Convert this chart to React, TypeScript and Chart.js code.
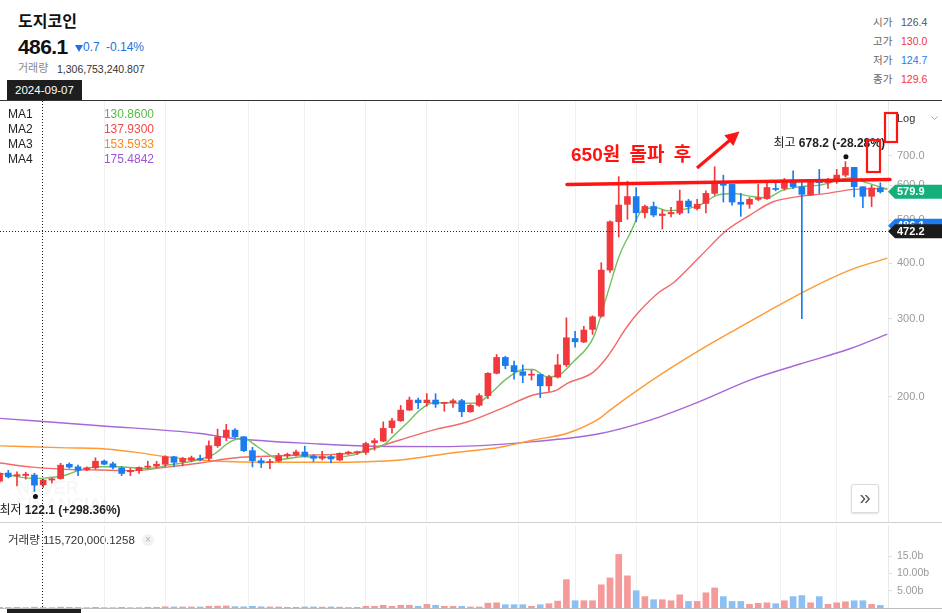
import React, { useEffect, useRef } from 'react';
import { Chart, registerables } from 'chart.js';

Chart.register(...registerables);

const FONT = '"Liberation Sans", "Noto Sans CJK KR", Arial, sans-serif';

// ---------- data (daily candles, index 0..101) ----------
const OPEN = [
  128.8, 134.4, 132.4, 132.7, 133.0, 126.4, 129.6, 130.6, 140.6, 138.8,
  136.7, 138.1, 143.0, 141.0, 138.0, 135.3, 136.1, 138.6, 139.3, 140.7,
  146.3, 142.5, 143.6, 145.0, 145.0, 154.9, 162.0, 168.0, 162.3, 151.0,
  143.3, 141.9, 143.0, 147.0, 147.6, 149.9, 146.9, 145.1, 146.4, 143.8,
  149.0, 149.4, 149.6, 157.3, 158.7, 170.2, 176.3, 186.4, 196.4, 193.7,
  196.4, 193.0, 193.7, 195.8, 184.8, 191.1, 201.0, 225.7, 245.1, 234.9,
  227.6, 223.5, 224.3, 211.5, 221.3, 235.8, 270.5, 265.6, 283.6, 303.7,
  386.0, 496.2, 543.1, 565.6, 519.9, 537.3, 512.5, 517.0, 519.2, 552.6,
  531.5, 545.8, 575.0, 604.0, 602.6, 549.0, 543.4, 557.6, 559.7, 590.0,
  590.0, 616.2, 595.3, 570.6, 610.9, 607.7, 611.0, 632.3, 658.3, 595.3,
  566.4, 591.5,
];
const HIGH = [
  135.0, 136.3, 135.3, 135.0, 134.2, 130.0, 131.0, 141.4, 141.7, 140.0,
  138.8, 145.5, 143.8, 142.3, 138.8, 137.7, 138.8, 142.9, 142.9, 147.1,
  146.5, 145.8, 146.8, 147.5, 158.8, 168.9, 173.2, 169.4, 162.5, 153.6,
  145.2, 144.4, 148.9, 149.1, 151.4, 154.5, 147.8, 150.5, 147.4, 149.3,
  150.6, 150.6, 157.8, 160.8, 175.4, 178.5, 191.0, 199.5, 198.4, 203.0,
  203.0, 194.3, 197.3, 197.2, 192.0, 203.0, 226.6, 248.9, 246.5, 240.5,
  235.8, 229.5, 224.8, 223.3, 248.9, 301.2, 280.9, 288.3, 304.3, 401.2,
  498.6, 627.4, 612.7, 593.0, 541.2, 549.9, 527.3, 534.7, 584.9, 557.5,
  557.5, 582.9, 660.3, 632.3, 602.6, 575.4, 562.7, 602.6, 606.8, 609.0,
  621.6, 646.5, 609.0, 616.2, 651.4, 621.6, 651.4, 678.2, 658.3, 595.3,
  599.8, 607.7,
];
const LOW = [
  128.0, 131.0, 125.7, 130.2, 122.1, 124.7, 127.7, 130.2, 137.7, 132.6,
  136.1, 137.0, 140.3, 137.3, 132.6, 132.6, 134.2, 137.7, 138.1, 138.8,
  138.8, 139.5, 142.5, 143.2, 143.6, 153.6, 159.0, 161.6, 150.2, 138.8,
  138.3, 137.5, 142.5, 145.2, 146.7, 146.3, 142.7, 143.8, 141.6, 143.3,
  148.0, 148.0, 148.0, 151.4, 158.2, 165.3, 175.8, 186.1, 187.7, 190.3,
  189.0, 185.3, 189.0, 180.2, 184.3, 190.0, 197.9, 225.0, 231.1, 218.8,
  214.9, 217.9, 198.8, 205.3, 220.2, 233.8, 258.5, 264.6, 276.3, 302.1,
  381.4, 458.4, 502.5, 496.2, 506.3, 509.0, 477.8, 509.0, 514.8, 519.2,
  527.3, 519.2, 569.7, 549.7, 541.2, 510.4, 532.1, 553.7, 557.6, 582.5,
  584.9, 589.0, 300.0, 568.5, 575.0, 590.0, 605.7, 626.8, 564.3, 533.9,
  536.8, 576.0,
];
const CLOSE = [
  134.2, 131.8, 133.3, 133.6, 126.2, 129.6, 130.4, 140.0, 138.6, 136.3,
  138.1, 142.9, 140.7, 138.6, 134.1, 136.3, 138.3, 139.3, 140.7, 146.3,
  142.1, 145.0, 145.5, 144.0, 154.9, 162.2, 168.0, 162.3, 151.0, 143.3,
  141.6, 142.6, 146.9, 148.0, 149.9, 146.7, 145.1, 146.4, 144.6, 148.9,
  149.8, 149.9, 156.7, 159.0, 169.5, 176.3, 186.4, 196.4, 193.7, 196.4,
  192.3, 193.6, 195.7, 184.8, 191.1, 201.0, 225.7, 245.1, 234.9, 227.6,
  223.3, 224.7, 211.5, 221.3, 235.8, 271.5, 265.9, 282.6, 302.7, 386.0,
  496.2, 541.2, 565.6, 519.9, 537.3, 513.8, 516.5, 520.7, 552.6, 536.8,
  543.6, 575.0, 608.3, 599.8, 549.7, 543.4, 557.6, 561.7, 592.9, 587.0,
  616.2, 595.3, 572.3, 610.9, 607.7, 613.1, 632.3, 658.3, 595.3, 566.4,
  591.5, 579.9,
];
// volume in billions
const VOLUME_B = [
  0.2, 0.15, 0.2, 0.1, 0.25, 0.15, 0.1, 0.25, 0.2, 0.15,
  0.1, 0.2, 0.1, 0.1, 0.2, 0.1, 0.1, 0.2, 0.2, 0.35,
  0.3, 0.3, 0.3, 0.3, 0.5, 0.55, 0.6, 0.4, 0.35, 0.5,
  0.35, 0.3, 0.3, 0.2, 0.2, 0.3, 0.3, 0.25, 0.3, 0.25,
  0.15, 0.2, 0.5, 0.5, 0.8, 0.5, 0.8, 0.8, 0.5, 1.05,
  0.8, 0.5, 0.5, 0.5, 0.3, 0.3, 1.4, 1.5, 0.95, 0.95,
  0.95, 0.5, 0.95, 1.25, 2.0, 8.2, 2.1, 2.1, 2.1, 6.7,
  8.7, 15.5, 9.3, 5.0, 3.3, 2.4, 2.4, 2.1, 3.8, 1.9,
  1.9, 4.4, 5.8, 3.3, 1.9, 1.9, 1.05, 1.35, 1.5, 1.25,
  2.1, 3.3, 3.6, 1.5, 3.3, 1.05, 1.5, 1.8, 2.1, 2.1,
  1.05, 0.75,
];

// moving averages: [candle index, value]
const MA1_PTS = [
  [0.05, 134.2], [3.8, 130.7], [5, 130.86], [7.3, 132.5], [9.2, 136.5], [11.5, 138.9], [13.8, 138.9],
  [16.1, 137.7], [18, 138.1], [19.2, 140.0], [20.7, 141.3], [23, 144.4], [24.5, 147.9], [26.4, 157.9],
  [27.9, 161.2], [29.5, 154.5], [31, 147.5], [32.2, 144.3], [34.8, 146.3], [37.9, 145.8], [40.5, 147.5],
  [42.5, 151.9], [44, 155.4], [45.1, 162.4], [46.7, 174.0], [48.2, 186.4], [49.7, 193.7], [51.6, 193.7],
  [52.8, 193.1], [54.7, 193.1], [56.2, 202.6], [58.2, 219.8], [60.1, 230.3], [61.2, 230.3], [62.7, 221.7],
  [63.9, 222.5], [65.8, 239.7], [68.1, 272.1], [69.6, 336.0], [71.1, 417.3], [72.3, 467.1], [73.8, 529.2],
  [75.35, 533.8], [76.5, 525.3], [78.4, 529.2], [80.3, 541.2], [82.3, 569.9], [84.1, 574.9], [86, 567.0],
  [88, 562.1], [89.8, 584.9], [91.8, 595.1], [94.1, 600.4], [96, 614.0], [97.5, 623.2], [99.5, 607.2],
  [101.8, 587.0],
];
const MA2_PTS = [
  [0.05, 141.6], [3.8, 138.6], [7.7, 137.0], [11.5, 136.5], [15.3, 136.1], [19.2, 138.6], [23, 141.6],
  [26.8, 145.3], [29, 146.3], [34.4, 147.5], [40.5, 149.0], [42.1, 151.4], [45.9, 159.6], [49.7, 168.0],
  [53.6, 175.2], [57.4, 187.4], [61.2, 201.6], [63.9, 206.9], [65.1, 214.2], [68.05, 226.8], [69.7, 246.0],
  [71.95, 287.5], [73.4, 311.9], [75.7, 344.8], [77.2, 360.3], [80.3, 413.6], [83.4, 475.2], [86.05, 513.8],
  [88.7, 550.5], [91.4, 564.8], [94.9, 575.0], [97.9, 587.0], [101.8, 590.0],
];
const MA3_PTS = [
  [0.05, 154.8], [7.7, 153.2], [11.5, 152.7], [15.3, 150.0], [19.2, 146.2], [23, 143.8], [26.8, 142.5],
  [36.7, 142.1], [42.1, 142.5], [45.9, 143.8], [51.6, 149.0], [57.4, 153.7], [61.2, 159.6], [65.1, 165.3],
  [68.9, 179.1], [70, 186.4], [75.7, 223.6], [80.3, 254.7], [84.3, 282.6], [92.6, 347.9], [97.5, 386.0],
  [101.8, 410.9],
];
const MA4_PTS = [
  [0.05, 178.6], [11.5, 171.9], [23, 165.1], [26.4, 161.3], [36.7, 156.3], [42.1, 154.7], [51.6, 154.2],
  [61.2, 158.2], [68.9, 165.1], [74.6, 177.0], [80.3, 195.0], [86.05, 217.9], [91.8, 236.9], [97.5, 256.4],
  [101.8, 276.8],
];

const MA_NAMES = ['MA1', 'MA2', 'MA3', 'MA4'];
const MA_VALUES = ['130.8600', '137.9300', '153.5933', '175.4842'];
const MA_TEXT_COLORS = ['#5bb947', '#f04a4a', '#f7891f', '#9b57d3'];
const MA_LINE_COLORS = ['#72c25e', '#f26a6a', '#ff9a33', '#a568d8'];

const PRICE_TICKS = [200, 300, 400, 500, 600, 700];
const VOL_TICKS = [5, 10, 15];
const VOL_TICK_LABELS = ['5.00b', '10.00b', '15.0b'];
const GRID_IDX = [12, 19, 28.5, 35, 42, 49, 59.5, 66, 73, 80, 89.5, 96];

const OHLC_LABELS = ['시가', '고가', '저가', '종가'];
const OHLC_VALUES = ['126.4', '130.0', '124.7', '129.6'];
const OHLC_COLORS = ['#555555', '#f0383d', '#1c7ced', '#f0383d'];

const PRICE_TAGS = [
  { value: 486.1, text: '486.1', color: '#1c7ced' },
  { value: 579.9, text: '579.9', color: '#13b07a' },
  { value: 472.2, text: '472.2', color: '#1b1b1b' },
];
const CROSS_INDEX = 5;
const CROSS_PRICE = 472.2;
const HIGH_INDEX = 97;
const HIGH_PCT = '-28.28%';
const LOW_INDEX = 4;
const LOW_PCT = '+298.36%';

const UP = '#f0383d';
const DOWN = '#1c7ced';
const VUP = '#f5999b';
const VDOWN = '#8cc0f4';

// scale ranges
const X_MIN = 0.05;
const X_MAX = 101.88;
const Y_MIN = 104.2;
const Y_MAX = 929.5;
const VOL_MAX = 24;
const AXIS_W = 54;

const IDX = OPEN.map((_, i) => i);
const isUp = (i: number) => CLOSE[i] >= OPEN[i];

function zeroPad(s: any) {
  s.paddingTop = 0;
  s.paddingBottom = 0;
  s.paddingLeft = 0;
  s.paddingRight = 0;
}

function xScaleCfg(): any {
  return {
    type: 'linear',
    min: X_MIN,
    max: X_MAX,
    offset: false,
    bounds: 'data',
    grid: { display: true, color: '#f0f0f0', lineWidth: 1, drawTicks: false, offset: false },
    border: { display: false },
    ticks: { display: false },
    afterBuildTicks: (s: any) => {
      s.ticks = GRID_IDX.map((v) => ({ value: v }));
    },
    afterFit: (s: any) => {
      s.height = 0;
      zeroPad(s);
    },
  };
}

function drawTag(ctx: CanvasRenderingContext2D, left: number, right: number, y: number, color: string, text: string) {
  const h = 14;
  const tip = 7;
  ctx.fillStyle = color;
  ctx.beginPath();
  ctx.moveTo(left, y);
  ctx.lineTo(left + tip, y - h / 2);
  ctx.lineTo(right, y - h / 2);
  ctx.lineTo(right, y + h / 2);
  ctx.lineTo(left + tip, y + h / 2);
  ctx.closePath();
  ctx.fill();
  ctx.fillStyle = '#ffffff';
  ctx.font = `bold 11px ${FONT}`;
  ctx.textAlign = 'left';
  ctx.textBaseline = 'middle';
  ctx.fillText(text, left + 9, y + 0.5);
}

const pricePlugin = {
  id: 'priceOverlay',
  afterDatasetsDraw(chart: any) {
    const { ctx, chartArea, scales } = chart;
    const x = scales.x;
    const y = scales.y;
    ctx.save();
    // crosshair
    ctx.strokeStyle = '#222';
    ctx.lineWidth = 1;
    ctx.setLineDash([1, 2]);
    const cx = Math.round(x.getPixelForValue(CROSS_INDEX)) - 0.5;
    ctx.beginPath();
    ctx.moveTo(cx, chartArea.top);
    ctx.lineTo(cx, chartArea.bottom);
    ctx.stroke();
    const cy = Math.round(y.getPixelForValue(CROSS_PRICE)) + 0.5;
    ctx.beginPath();
    ctx.moveTo(chartArea.left, cy);
    ctx.lineTo(chartArea.right, cy);
    ctx.stroke();
    ctx.setLineDash([]);

    // highest annotation
    const hx = x.getPixelForValue(HIGH_INDEX);
    const hy = y.getPixelForValue(HIGH[HIGH_INDEX]);
    ctx.fillStyle = '#111';
    ctx.beginPath();
    ctx.arc(hx + 0.5, hy - 5, 2.5, 0, Math.PI * 2);
    ctx.fill();
    ctx.textBaseline = 'middle';
    ctx.textAlign = 'left';
    ctx.font = `12px ${FONT}`;
    const t1 = '최고 ';
    const w1 = ctx.measureText(t1).width;
    const sx = hx - 72;
    ctx.fillStyle = '#222';
    ctx.fillText(t1, sx, hy - 18);
    ctx.font = `bold 12px ${FONT}`;
    ctx.fillText(`${HIGH[HIGH_INDEX].toFixed(1)} (${HIGH_PCT})`, sx + w1, hy - 18);

    // lowest annotation
    const lx = x.getPixelForValue(LOW_INDEX);
    const ly = y.getPixelForValue(LOW[LOW_INDEX]);
    ctx.fillStyle = '#111';
    ctx.beginPath();
    ctx.arc(lx + 1, ly + 5, 2.5, 0, Math.PI * 2);
    ctx.fill();
    ctx.font = `12px ${FONT}`;
    const t2 = '최저 ';
    const w2 = ctx.measureText(t2).width;
    const lsx = lx - 35;
    ctx.fillStyle = '#222';
    ctx.fillText(t2, lsx, ly + 19);
    ctx.font = `bold 12px ${FONT}`;
    ctx.fillText(`${LOW[LOW_INDEX].toFixed(1)} (${LOW_PCT})`, lsx + w2, ly + 19);
    ctx.restore();
  },
  afterDraw(chart: any) {
    const { ctx, chartArea, scales } = chart;
    const y = scales.y;
    ctx.save();
    PRICE_TAGS.forEach((t) => {
      drawTag(ctx, chartArea.right, chart.width, y.getPixelForValue(t.value), t.color, t.text);
    });
    ctx.restore();
  },
};

const volPlugin = {
  id: 'volOverlay',
  afterDatasetsDraw(chart: any) {
    const { ctx, scales } = chart;
    ctx.save();
    ctx.strokeStyle = '#222';
    ctx.lineWidth = 1;
    ctx.setLineDash([1, 2]);
    const cx = Math.round(scales.x.getPixelForValue(CROSS_INDEX)) - 0.5;
    ctx.beginPath();
    ctx.moveTo(cx, 0);
    ctx.lineTo(cx, chart.height);
    ctx.stroke();
    ctx.restore();
  },
};

function maDataset(pts: number[][], color: string): any {
  return {
    type: 'line',
    data: pts.map((p) => ({ x: p[0], y: p[1] })),
    borderColor: color,
    borderWidth: 1.4,
    pointRadius: 0,
    fill: false,
    cubicInterpolationMode: 'monotone',
  };
}

export default function App() {
  const priceRef = useRef<HTMLCanvasElement>(null);
  const volRef = useRef<HTMLCanvasElement>(null);

  useEffect(() => {
    const priceChart = new Chart(priceRef.current as HTMLCanvasElement, {
      type: 'bar',
      data: {
        datasets: [
          {
            type: 'bar',
            data: IDX.map((i) => ({ x: i, y: [OPEN[i], CLOSE[i]] })),
            backgroundColor: IDX.map((i) => (isUp(i) ? UP : DOWN)),
            barThickness: 6,
            grouped: false,
            minBarLength: 1,
            borderWidth: 0,
          } as any,
          {
            type: 'bar',
            data: IDX.map((i) => ({ x: i, y: [LOW[i], HIGH[i]] })),
            backgroundColor: IDX.map((i) => (isUp(i) ? UP : DOWN)),
            barThickness: 1,
            grouped: false,
            borderWidth: 0,
          } as any,
          maDataset(MA1_PTS, MA_LINE_COLORS[0]),
          maDataset(MA2_PTS, MA_LINE_COLORS[1]),
          maDataset(MA3_PTS, MA_LINE_COLORS[2]),
          maDataset(MA4_PTS, MA_LINE_COLORS[3]),
        ],
      },
      options: {
        animation: false,
        responsive: false,
        maintainAspectRatio: false,
        events: [],
        layout: { padding: 0 },
        plugins: { legend: { display: false }, tooltip: { enabled: false } },
        scales: {
          x: xScaleCfg(),
          y: {
            type: 'logarithmic',
            position: 'right',
            min: Y_MIN,
            max: Y_MAX,
            bounds: 'data',
            afterBuildTicks: (s: any) => {
              s.ticks = PRICE_TICKS.map((v) => ({ value: v }));
            },
            afterFit: (s: any) => {
              s.width = AXIS_W;
              zeroPad(s);
            },
            ticks: {
              autoSkip: false,
              padding: 5,
              color: '#9a9a9a',
              font: { family: FONT, size: 11 },
              callback: (v: any) => Number(v).toFixed(1),
            },
            grid: { drawOnChartArea: false, drawTicks: true, tickLength: 4, color: '#dddddd' },
            border: { display: true, color: '#e8e8e8' },
          } as any,
        },
      },
      plugins: [pricePlugin],
    } as any);

    const volChart = new Chart(volRef.current as HTMLCanvasElement, {
      type: 'bar',
      data: {
        datasets: [
          {
            data: IDX.map((i) => ({ x: i, y: VOLUME_B[i] })),
            backgroundColor: IDX.map((i) => (isUp(i) ? VUP : VDOWN)),
            barThickness: 6,
            grouped: false,
            borderWidth: 0,
          } as any,
        ],
      },
      options: {
        animation: false,
        responsive: false,
        maintainAspectRatio: false,
        events: [],
        layout: { padding: 0 },
        plugins: { legend: { display: false }, tooltip: { enabled: false } },
        scales: {
          x: xScaleCfg(),
          y: {
            type: 'linear',
            position: 'right',
            min: 0,
            max: VOL_MAX,
            bounds: 'data',
            afterBuildTicks: (s: any) => {
              s.ticks = VOL_TICKS.map((v) => ({ value: v }));
            },
            afterFit: (s: any) => {
              s.width = AXIS_W;
              zeroPad(s);
            },
            ticks: {
              autoSkip: false,
              padding: 5,
              color: '#9a9a9a',
              font: { family: FONT, size: 10.5 },
              callback: (v: any) => VOL_TICK_LABELS[VOL_TICKS.indexOf(Number(v))],
            },
            grid: { drawOnChartArea: false, drawTicks: true, tickLength: 4, color: '#dddddd' },
            border: { display: true, color: '#e8e8e8' },
          } as any,
        },
      },
      plugins: [volPlugin],
    } as any);

    return () => {
      priceChart.destroy();
      volChart.destroy();
    };
  }, []);

  const abs = (s: React.CSSProperties): React.CSSProperties => ({ position: 'absolute', whiteSpace: 'nowrap', ...s });

  return (
    <div
      style={{
        position: 'fixed',
        left: 0,
        top: 0,
        width: 942,
        height: 613,
        overflow: 'hidden',
        background: '#ffffff',
        fontFamily: FONT,
        color: '#222',
      }}
    >
      {/* header */}
      <div style={abs({ left: 18, top: 12, fontSize: 16, fontWeight: 700, lineHeight: '20px', color: '#111' })}>도지코인</div>
      <div style={abs({ left: 18, top: 35, fontSize: 21, fontWeight: 700, lineHeight: '24px', letterSpacing: -0.6, color: '#111' })}>
        486.1
      </div>
      <div
        style={abs({
          left: 75,
          top: 44.5,
          width: 0,
          height: 0,
          borderLeft: '4px solid transparent',
          borderRight: '4px solid transparent',
          borderTop: '7px solid #2072e0',
        })}
      />
      <div style={abs({ left: 83, top: 40, fontSize: 12, lineHeight: '14px', color: '#2072e0' })}>0.7</div>
      <div style={abs({ left: 106, top: 40, fontSize: 12, lineHeight: '14px', color: '#2072e0' })}>-0.14%</div>
      <div style={abs({ left: 18, top: 61, fontSize: 11, lineHeight: '14px', color: '#888' })}>거래량</div>
      <div style={abs({ left: 57, top: 61.5, fontSize: 10.5, lineHeight: '14px', color: '#333' })}>1,306,753,240.807</div>
      <div
        style={abs({
          left: 7,
          top: 80,
          width: 75,
          height: 20,
          background: '#1e1e1e',
          color: '#fff',
          fontSize: 11.5,
          lineHeight: '20px',
          textAlign: 'center',
        })}
      >
        2024-09-07
      </div>
      {OHLC_LABELS.map((l, k) => (
        <React.Fragment key={l}>
          <div style={abs({ left: 873, top: 15.5 + k * 19.1, fontSize: 10.5, lineHeight: '13px', color: '#666' })}>{l}</div>
          <div style={abs({ left: 901, top: 15.5 + k * 19.1, fontSize: 10.5, lineHeight: '13px', color: OHLC_COLORS[k] })}>
            {OHLC_VALUES[k]}
          </div>
        </React.Fragment>
      ))}
      <div style={abs({ left: 0, top: 99.5, width: 942, height: 1.5, background: '#333' })} />

      {/* watermark */}
      <div style={abs({ left: 17, top: 479, fontSize: 18, fontWeight: 700, lineHeight: '18px', color: 'rgba(0,0,0,0.05)' })}>NAVER</div>
      <div style={abs({ left: 16, top: 496, fontSize: 18, fontWeight: 700, lineHeight: '18px', color: 'rgba(0,0,0,0.05)' })}>FINANCIAL</div>

      {/* price chart */}
      <canvas ref={priceRef} width={942} height={421} style={{ position: 'absolute', left: 0, top: 101, width: 942, height: 421 }} />

      {/* MA legend */}
      {MA_NAMES.map((n, k) => (
        <React.Fragment key={n}>
          <div style={abs({ left: 8, top: 107 + k * 15, fontSize: 12, lineHeight: '14px', color: '#222' })}>{n}</div>
          <div style={abs({ right: 942 - 154, top: 107 + k * 15, fontSize: 12, lineHeight: '14px', color: MA_TEXT_COLORS[k] })}>
            {MA_VALUES[k]}
          </div>
        </React.Fragment>
      ))}

      {/* Log toggle */}
      <div style={abs({ left: 897, top: 112, fontSize: 11, lineHeight: '13px', color: '#333' })}>Log</div>

      {/* hand-drawn red annotation */}
      <svg width={942} height={613} style={{ position: 'absolute', left: 0, top: 0, pointerEvents: 'none' }}>
        <polyline points="931.5,116.5 934.5,119.5 937.5,116.5" fill="none" stroke="#aaa" strokeWidth={1} />
        <line x1={567} y1={184.5} x2={890} y2={179.5} stroke="#ff1414" strokeWidth={3.5} strokeLinecap="round" />
        <text x={571} y={161} fill="#ff1414" fontSize={19} fontWeight={700} fontFamily={FONT} wordSpacing={4}>
          650원 돌파 후
        </text>
        <line x1={697} y1={168} x2={729.5} y2={140.5} stroke="#ff1414" strokeWidth={3.2} />
        <polygon points="739.5,131.5 724.3,135.3 733.4,145.9" fill="#ff1414" />
        <rect x={885} y={113} width={12} height={29} fill="none" stroke="#ff1414" strokeWidth={2.2} />
        <rect x={867} y={140} width={13} height={32} fill="none" stroke="#ff1414" strokeWidth={2.2} />
      </svg>

      {/* scroll button */}
      <div
        style={abs({
          left: 851,
          top: 484,
          width: 26,
          height: 27,
          border: '1px solid #dcdcdc',
          borderRadius: 2,
          background: '#fff',
          boxShadow: '0 1px 2px rgba(0,0,0,0.12)',
          color: '#555',
          fontSize: 20,
          lineHeight: '25px',
          textAlign: 'center',
        })}
      >
        »
      </div>

      <div style={abs({ left: 0, top: 522, width: 942, height: 1, background: '#cfcfcf' })} />

      {/* volume pane */}
      <div style={abs({ left: 8, top: 533, fontSize: 11.5, lineHeight: '14px', color: '#333' })}>거래량 115,720,000.1258</div>
      <div
        style={abs({
          left: 142,
          top: 534,
          width: 12,
          height: 12,
          borderRadius: 6,
          background: '#f2f2f2',
          color: '#b5b5b5',
          fontSize: 10,
          lineHeight: '12px',
          textAlign: 'center',
        })}
      >
        ×
      </div>
      <canvas ref={volRef} width={942} height={83} style={{ position: 'absolute', left: 0, top: 525, width: 942, height: 83 }} />
      <div style={abs({ left: 0, top: 608, width: 942, height: 1, background: '#bdbdbd' })} />
      <div style={abs({ left: 7, top: 609, width: 74, height: 6, background: '#1e1e1e' })} />
    </div>
  );
}
